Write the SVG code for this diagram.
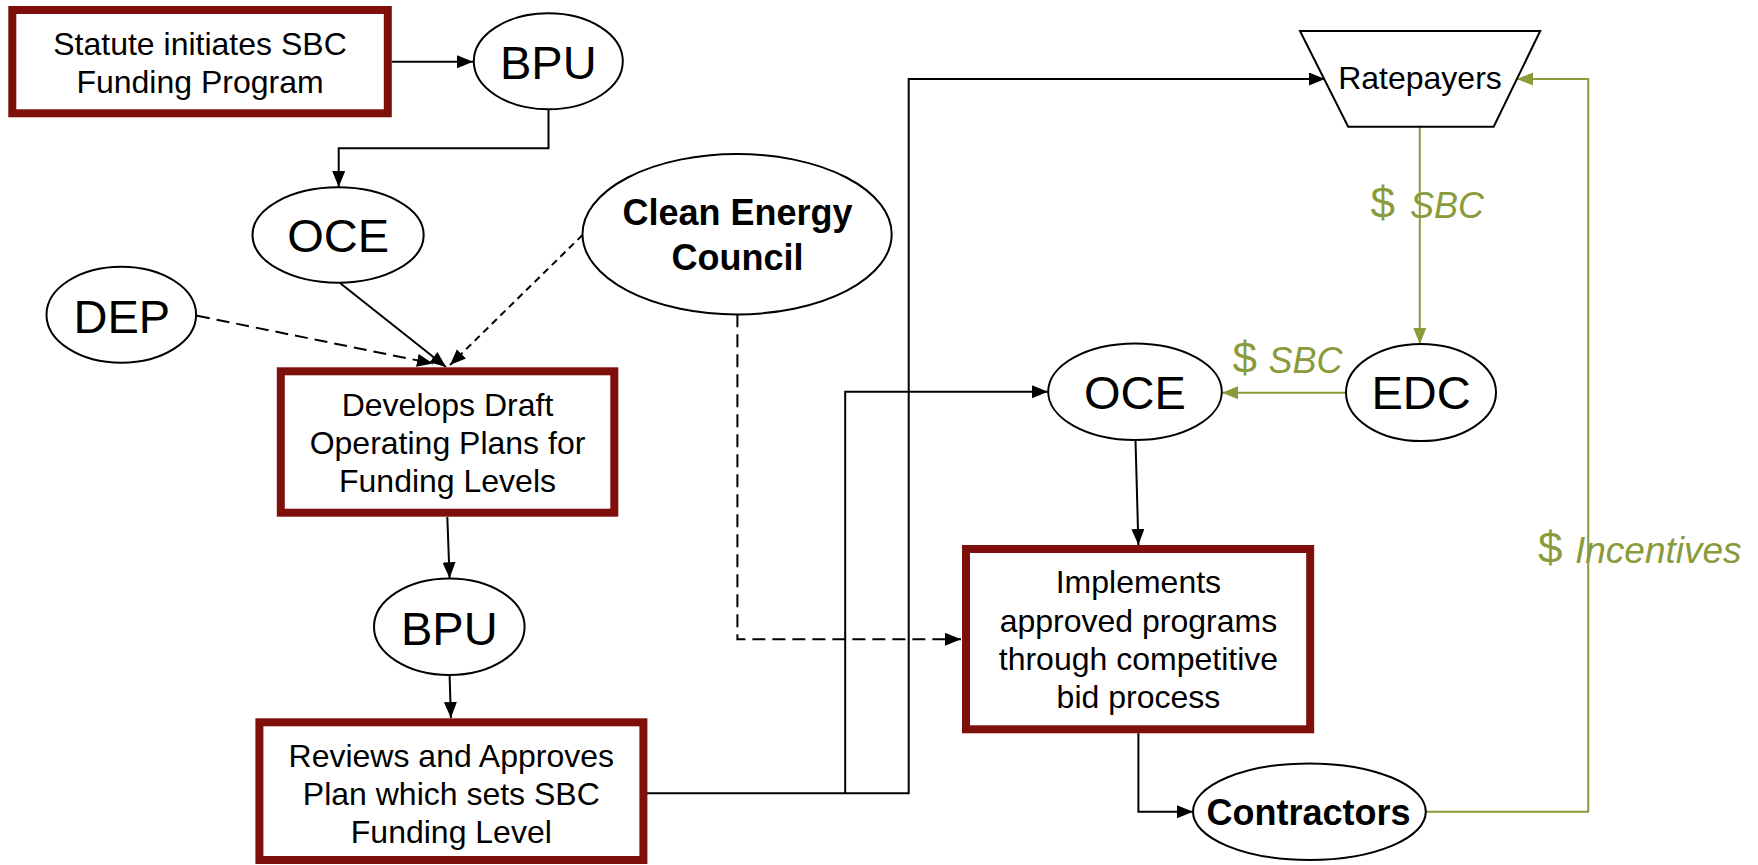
<svg xmlns="http://www.w3.org/2000/svg" width="1758" height="865" viewBox="0 0 1758 865">
<defs>
<marker id="ab" markerUnits="userSpaceOnUse" markerWidth="17" markerHeight="14" refX="16" refY="6.5" orient="auto"><path d="M0,0 L16,6.5 L0,13 z" fill="#000"/></marker>
<marker id="ag" markerUnits="userSpaceOnUse" markerWidth="17" markerHeight="14" refX="16" refY="6.5" orient="auto"><path d="M0,0 L16,6.5 L0,13 z" fill="#8A9B3B"/></marker>
</defs>
<style>
.box{fill:#fff;stroke:#7E0F0B;stroke-width:8}
.el{fill:#fff;stroke:#000;stroke-width:2}
.t{font-family:"Liberation Sans",Arial,sans-serif;font-size:32px;fill:#000;text-anchor:middle}
.big{font-family:"Liberation Sans",Arial,sans-serif;font-size:47px;fill:#000;text-anchor:middle}
.bold{font-family:"Liberation Sans",Arial,sans-serif;font-size:36px;font-weight:bold;fill:#000;text-anchor:middle}
.c{fill:none;stroke:#000;stroke-width:2}
.g{fill:none;stroke:#8A9B3B;stroke-width:2}
.gl{font-family:"Liberation Sans",Arial,sans-serif;fill:#8A9B3B}
</style>
<g id="connectors">
<path class="c" d="M392,61.7 H473" marker-end="url(#ab)"/>
<path class="c" d="M548.5,109.3 V148.3 H338.7 V187" marker-end="url(#ab)"/>
<path class="c" d="M340,283 L446,367" marker-end="url(#ab)"/>
<path class="c" d="M197,315.7 L433,363.5" stroke-dasharray="13,7" marker-end="url(#ab)"/>
<path class="c" d="M582.5,235 L450,365" stroke-dasharray="7,5" marker-end="url(#ab)"/>
<path class="c" d="M447.3,517 L449.6,578.3" marker-end="url(#ab)"/>
<path class="c" d="M449.6,675 L450.9,718" marker-end="url(#ab)"/>
<path class="c" d="M647,793.3 H908.7 V79 H1325" marker-end="url(#ab)"/>
<path class="c" d="M845.2,793.3 V391.7 H1048" marker-end="url(#ab)"/>
<path class="c" d="M737.4,314.3 V639.3 H961" stroke-dasharray="13,7" marker-end="url(#ab)"/>
<path class="c" d="M1135.5,440 L1138.4,545" marker-end="url(#ab)"/>
<path class="c" d="M1138.4,733.3 V811.7 H1193" marker-end="url(#ab)"/>
<path class="g" d="M1419.8,126.7 V344" marker-end="url(#ag)"/>
<path class="g" d="M1346,392.7 H1222" marker-end="url(#ag)"/>
<path class="g" d="M1425.7,811.7 H1588.2 V79 H1517" marker-end="url(#ag)"/>
<text class="gl" x="1370.5" y="218.3" font-size="44">$</text>
<text class="gl" x="1410" y="218.3" font-size="36" font-style="italic">SBC</text>
<text class="gl" x="1232.5" y="372.7" font-size="44">$</text>
<text class="gl" x="1268.5" y="372.7" font-size="36" font-style="italic">SBC</text>
<text class="gl" x="1538" y="562.7" font-size="44">$</text>
<text class="gl" x="1575" y="562.7" font-size="37" font-style="italic">Incentives</text>
</g>
<g id="statute">
<rect class="box" x="12.3" y="10" width="375.5" height="103.3"/>
<text class="t" x="200" y="55">Statute initiates SBC</text>
<text class="t" x="200" y="92.7">Funding Program</text>
</g>
<g id="bpu1">
<ellipse class="el" cx="548.3" cy="61.3" rx="74.5" ry="48"/>
<text class="big" x="548.3" y="79.3">BPU</text>
</g>
<g id="oce1">
<ellipse class="el" cx="338.1" cy="235" rx="85.6" ry="47.7"/>
<text class="big" x="338.1" y="252.3">OCE</text>
</g>
<g id="dep">
<ellipse class="el" cx="121.3" cy="314.7" rx="74.8" ry="48"/>
<text class="big" x="121.8" y="332.7">DEP</text>
</g>
<g id="cec">
<ellipse class="el" cx="737.1" cy="234.2" rx="154.6" ry="80.2"/>
<text class="bold" x="737.5" y="225">Clean Energy</text>
<text class="bold" x="737.5" y="270">Council</text>
</g>
<g id="develops">
<rect class="box" x="280.8" y="371.3" width="333.5" height="141.4"/>
<text class="t" x="447.5" y="416">Develops Draft</text>
<text class="t" x="447.5" y="454">Operating Plans for</text>
<text class="t" x="447.5" y="491.7">Funding Levels</text>
</g>
<g id="bpu2">
<ellipse class="el" cx="449.3" cy="626.7" rx="75.3" ry="48.3"/>
<text class="big" x="449.3" y="645">BPU</text>
</g>
<g id="reviews">
<rect class="box" x="259.4" y="722.3" width="384" height="137.7"/>
<text class="t" x="451.3" y="766.7">Reviews and Approves</text>
<text class="t" x="451.3" y="805">Plan which sets SBC</text>
<text class="t" x="451.3" y="843.3">Funding Level</text>
</g>
<g id="ratepayers">
<path d="M1300,31 H1540.2 L1493.7,126.7 H1348.2 Z" fill="#fff" stroke="#000" stroke-width="2"/>
<text class="t" x="1420" y="89.3" font-size="31">Ratepayers</text>
</g>
<g id="edc">
<ellipse class="el" cx="1421" cy="392.5" rx="75" ry="48.5"/>
<text class="big" x="1421" y="409.3">EDC</text>
</g>
<g id="oce2">
<ellipse class="el" cx="1135" cy="391.7" rx="86.8" ry="48.3"/>
<text class="big" x="1135" y="409.3">OCE</text>
</g>
<g id="implements">
<rect class="box" x="966" y="549" width="344.2" height="180.3"/>
<text class="t" x="1138.4" y="593.3">Implements</text>
<text class="t" x="1138.4" y="631.7">approved programs</text>
<text class="t" x="1138.4" y="670">through competitive</text>
<text class="t" x="1138.4" y="708.3">bid process</text>
</g>
<g id="contractors">
<ellipse class="el" cx="1309.4" cy="811.7" rx="116.4" ry="48.3"/>
<text class="bold" x="1308.5" y="825">Contractors</text>
</g>
</svg>
